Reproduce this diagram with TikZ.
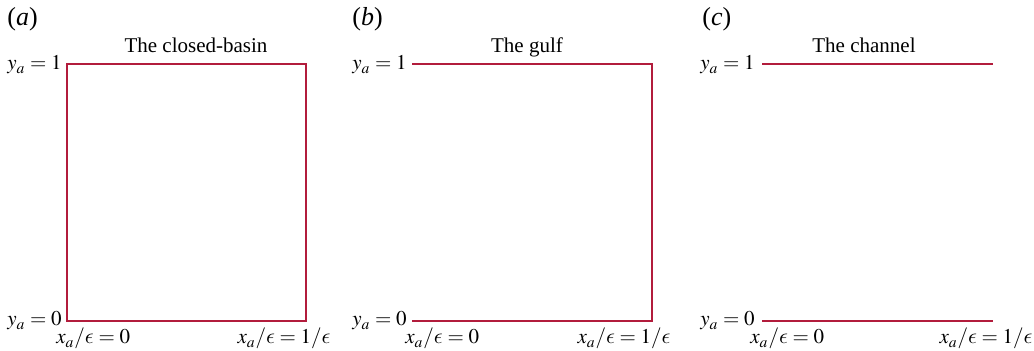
\documentclass[tikz,border=0pt]{standalone}
\usepackage{mathptmx}
\usepackage[no-math]{fontspec}
\setmainfont{Liberation Serif}
\DeclareSymbolFont{cmletters}{OML}{cmm}{m}{it}
\DeclareMathSymbol{\lunateps}{\mathord}{cmletters}{"0F}
\definecolor{wallred}{RGB}{178,28,60}
\tikzset{
  wall/.style={draw=wallred, line width=1.1pt},
  lab/.style={inner sep=0pt, font=\fontsize{10.5}{12}\selectfont},
  panel/.style={inner sep=0pt, font=\fontsize{13}{15}\selectfont},
}
\begin{document}
\begin{tikzpicture}[x=0.5pt, y=-0.5pt]
\useasboundingbox (0,0) rectangle (1034,351);

% (a) closed basin
\node[panel, anchor=base west] (pa) at (7,26) {(\textit{a})};
\node[lab, anchor=base] (ta) at (196,53) {The closed-basin};
\coordinate (a00) at (67,321);
\coordinate (a01) at (67,64);
\coordinate (a11) at (306,64);
\coordinate (a10) at (306,321);
\draw[wall] (a00) -- (a01) -- (a11) -- (a10) -- cycle;
\node[lab, anchor=east] (ya1) at (62,65) {$y_a = 1$};
\node[lab, anchor=east] (ya0) at (62,321) {$y_a = 0$};
\node[lab, anchor=base west] (xa0) at (56,344) {$x_a/\lunateps = 0$};
\node[lab, anchor=base east] (xa1) at (331,344) {$x_a/\lunateps = 1/\lunateps$};

% (b) gulf
\node[panel, anchor=base west] (pb) at (352,26) {(\textit{b})};
\node[lab, anchor=base] (tb) at (527,53) {The gulf};
\coordinate (b00) at (412,321);
\coordinate (b10) at (652,321);
\coordinate (b11) at (652,64);
\coordinate (b01) at (412,64);
\draw[wall] (b00) -- (b10) -- (b11) -- (b01);
\node[lab, anchor=east] (yb1) at (407,65) {$y_a = 1$};
\node[lab, anchor=east] (yb0) at (407,321) {$y_a = 0$};
\node[lab, anchor=base west] (xb0) at (405,344) {$x_a/\lunateps = 0$};
\node[lab, anchor=base east] (xb1) at (671,344) {$x_a/\lunateps = 1/\lunateps$};

% (c) channel
\node[panel, anchor=base west] (pc) at (702,26) {(\textit{c})};
\node[lab, anchor=base] (tc) at (864,53) {The channel};
\coordinate (c00) at (762,321);
\coordinate (c10) at (993,321);
\coordinate (c01) at (762,64);
\coordinate (c11) at (993,64);
\draw[wall] (c01) -- (c11);
\draw[wall] (c00) -- (c10);
\node[lab, anchor=east] (yc1) at (755,65) {$y_a = 1$};
\node[lab, anchor=east] (yc0) at (755,321) {$y_a = 0$};
\node[lab, anchor=base west] (xc0) at (750,344) {$x_a/\lunateps = 0$};
\node[lab, anchor=base east] (xc1) at (1033,344) {$x_a/\lunateps = 1/\lunateps$};
\end{tikzpicture}
\end{document}
